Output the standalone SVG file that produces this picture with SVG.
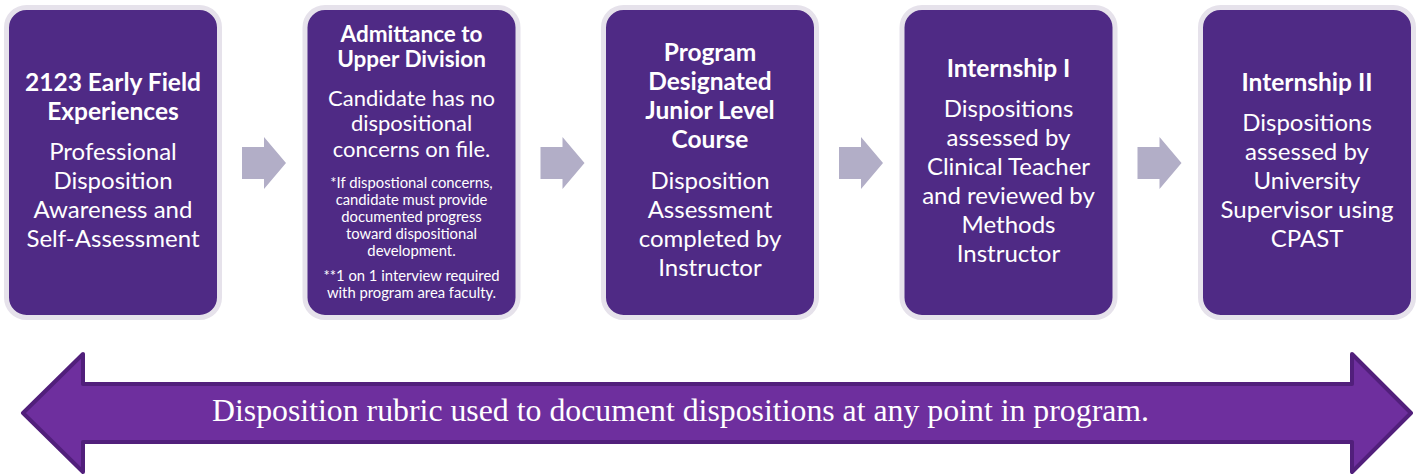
<svg xmlns="http://www.w3.org/2000/svg" width="1416" height="476" viewBox="0 0 1416 476">
  <defs>
    <style>
      .card { fill: #4f2a85; stroke: #e6e2eb; stroke-width: 5; }
      .step { fill: #b2aec7; }
      .t { font-family: Lato, "Open Sans", sans-serif; fill: #ffffff; text-anchor: middle; }
      .h { font-weight: 700; font-size: 24.5px; }
      .b { font-size: 24px; }
      .h2 { font-weight: 700; font-size: 22.5px; }
      .b2 { font-size: 22px; }
      .s { font-size: 14.8px; }
      .band { fill: #6e2f9e; stroke: #511f7b; stroke-width: 4; stroke-linejoin: round; }
      .bandtxt { font-family: "Liberation Serif", "Times New Roman", serif; font-size: 31.8px; fill: #ffffff; }
    </style>
  </defs>

  <!-- stage cards -->
  <g id="stage-early-field">
    <rect class="card" x="6.5" y="7.5" width="213" height="310" rx="20"/>
    <text class="t h" x="113" y="91">2123 Early Field</text>
    <text class="t h" x="113" y="120">Experiences</text>
    <text class="t b" x="113" y="160">Professional</text>
    <text class="t b" x="113" y="189">Disposition</text>
    <text class="t b" x="113" y="218">Awareness and</text>
    <text class="t b" x="113" y="247">Self-Assessment</text>
  </g>

  <g id="stage-upper-division">
    <rect class="card" x="305" y="7.5" width="213" height="310" rx="20"/>
    <text class="t h2" x="411.5" y="42">Admittance to</text>
    <text class="t h2" x="411.5" y="67">Upper Division</text>
    <text class="t b2" x="411.5" y="106">Candidate has no</text>
    <text class="t b2" x="411.5" y="131">dispositional</text>
    <text class="t b2" x="411.5" y="157">concerns on file.</text>
    <text class="t s" x="411.5" y="188">*If dispostional concerns,</text>
    <text class="t s" x="411.5" y="205">candidate must provide</text>
    <text class="t s" x="411.5" y="222">documented progress</text>
    <text class="t s" x="411.5" y="239">toward dispositional</text>
    <text class="t s" x="411.5" y="256">development.</text>
    <text class="t s" x="411.5" y="281">**1 on 1 interview required</text>
    <text class="t s" x="411.5" y="298">with program area faculty.</text>
  </g>

  <g id="stage-junior-course">
    <rect class="card" x="603.5" y="7.5" width="213" height="310" rx="20"/>
    <text class="t h" x="710" y="61">Program</text>
    <text class="t h" x="710" y="90">Designated</text>
    <text class="t h" x="710" y="119">Junior Level</text>
    <text class="t h" x="710" y="148">Course</text>
    <text class="t b" x="710" y="189">Disposition</text>
    <text class="t b" x="710" y="218">Assessment</text>
    <text class="t b" x="710" y="247">completed by</text>
    <text class="t b" x="710" y="276">Instructor</text>
  </g>

  <g id="stage-internship-1">
    <rect class="card" x="902" y="7.5" width="213" height="310" rx="20"/>
    <text class="t h" x="1008.5" y="77">Internship I</text>
    <text class="t b" x="1008.5" y="117">Dispositions</text>
    <text class="t b" x="1008.5" y="146">assessed by</text>
    <text class="t b" x="1008.5" y="175">Clinical Teacher</text>
    <text class="t b" x="1008.5" y="204">and reviewed by</text>
    <text class="t b" x="1008.5" y="233">Methods</text>
    <text class="t b" x="1008.5" y="262">Instructor</text>
  </g>

  <g id="stage-internship-2">
    <rect class="card" x="1200.5" y="7.5" width="213" height="310" rx="20"/>
    <text class="t h" x="1307" y="91">Internship II</text>
    <text class="t b" x="1307" y="131">Dispositions</text>
    <text class="t b" x="1307" y="160">assessed by</text>
    <text class="t b" x="1307" y="189">University</text>
    <text class="t b" x="1307" y="218">Supervisor using</text>
    <text class="t b" x="1307" y="247">CPAST</text>
  </g>

  <!-- block arrows between stages -->
  <g id="connectors">
    <polygon class="step" points="242,147 264,147 264,137 286,163 264,189 264,179 242,179"/>
    <polygon class="step" points="540.5,147 562.5,147 562.5,137 584.5,163 562.5,189 562.5,179 540.5,179"/>
    <polygon class="step" points="839,147 861,147 861,137 883,163 861,189 861,179 839,179"/>
    <polygon class="step" points="1137.5,147 1159.5,147 1159.5,137 1181.5,163 1159.5,189 1159.5,179 1137.5,179"/>
  </g>

  <!-- double-headed band along the bottom -->
  <g id="rubric-band">
    <polygon class="band" points="23,413 83,354 83,384 1352,384 1352,354 1411,413 1352,472 1352,442 83,442 83,472"/>
    <text class="bandtxt" x="212" y="421">Disposition rubric used to document dispositions at any point in program.</text>
  </g>
</svg>
